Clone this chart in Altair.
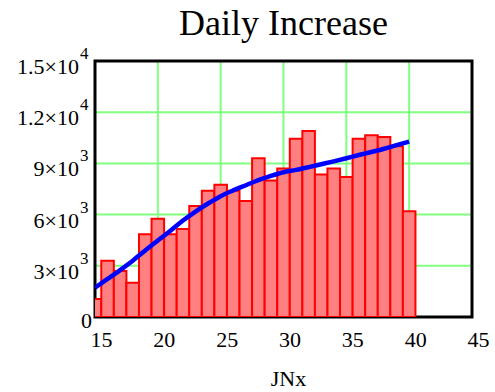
import altair as alt
import pandas as pd

# Daily increase per day number (JNx) and the smoothed trend
days = list(range(15, 41))
daily_increase = [1050, 3300, 2700, 2000, 4850, 5750, 4850, 5150, 6500, 7400,
                  7750, 7400, 6800, 9300, 8000, 8700, 10450, 10900, 8350, 8700,
                  8200, 10450, 10650, 10550, 10000, 6200]
trend_days = list(range(15, 41))
trend_values = [1720, 2230, 2750, 3300, 3900, 4480, 5050, 5650, 6180, 6650,
                7080, 7420, 7720, 8020, 8270, 8480, 8620, 8780, 8950, 9120,
                9300, 9490, 9670, 9860, 10070, 10280]

# Axis ticks; y labels are written in mantissa x 10^exponent form
x_ticks = [15, 20, 25, 30, 35, 40, 45]
y_ticks = [0, 3000, 6000, 9000, 12000, 15000]
y_mantissa = ["0", "3", "6", "9", "1.2", "1.5"]
y_exponent = ["", "3", "3", "3", "4", "4"]

FONT = "Liberation Serif"
GRID = "#80ff80"
W, H = 377, 256

bars_df = pd.DataFrame({"day": days, "value": daily_increase})
trend_df = pd.DataFrame({"day": trend_days, "value": trend_values})
ticks_df = pd.DataFrame({
    "value": y_ticks,
    "main": [m + "\u00d710" if e else m for m, e in zip(y_mantissa, y_exponent)],
    "sup": y_exponent,
})

x_scale = alt.Scale(domain=[15, 45], nice=False, zero=False)
y_scale = alt.Scale(domain=[0, 15000], nice=False)

x_axis = alt.Axis(
    values=x_ticks, grid=False,
    domain=False, ticks=False, tickSize=0,
    labelFont=FONT, labelFontSize=22, labelColor="black",
    labelPadding=12, labelOffset=6, labelFlush=False, labelOverlap=False,
    title="JNx", titleFont=FONT, titleFontSize=22, titleFontWeight="normal",
    titleColor="black", titleX=193, titleY=68, titleBaseline="alphabetic",
    titleAlign="center",
)
y_axis = alt.Axis(
    values=y_ticks, grid=False,
    domain=False, ticks=False, tickSize=0, labels=False, title=None,
)

x_enc = alt.X("day:Q", scale=x_scale, axis=x_axis)
y_enc = alt.Y("value:Q", scale=y_scale, axis=y_axis)

# interior grid lines (the frame covers the outer ones)
grid_x = alt.Chart(pd.DataFrame({"day": x_ticks})).transform_filter(
    "datum.day > 15 && datum.day < 45"
).mark_rule(color=GRID, strokeWidth=2).encode(x=x_enc)

grid_y = alt.Chart(pd.DataFrame({"value": y_ticks})).transform_filter(
    "datum.value > 0 && datum.value < 15000"
).mark_rule(color=GRID, strokeWidth=2).encode(y=y_enc)

# black frame around the plot area
frame = alt.Chart(pd.DataFrame({"f": [0]})).mark_rect(
    fillOpacity=0, stroke="black", strokeWidth=3
).encode(x=alt.value(0), x2=alt.value(W), y=alt.value(0), y2=alt.value(H))

# one bar per day, spanning day - 0.5 .. day + 0.5, rising from zero
bars = alt.Chart(bars_df).transform_calculate(
    left="datum.day - 0.5", right="datum.day + 0.5"
).mark_bar(
    color="#ff8080", stroke="#ff0000", strokeWidth=2, clip=True
).encode(
    x=alt.X("left:Q", scale=x_scale, axis=x_axis),
    x2="right:Q",
    y=y_enc,
    y2=alt.datum(0),
)

trend = alt.Chart(trend_df).mark_line(
    color="#0000ff", strokeWidth=4.5, interpolate="monotone", clip=True
).encode(x=x_enc, y=y_enc)

labels_main = alt.Chart(ticks_df).transform_filter("datum.sup != ''").mark_text(
    font=FONT, fontSize=22, align="right", baseline="alphabetic", dy=13, color="black"
).encode(x=alt.value(-16), y=y_enc, text="main:N")

labels_sup = alt.Chart(ticks_df).transform_filter("datum.sup != ''").mark_text(
    font=FONT, fontSize=17, align="left", baseline="alphabetic", dy=-2, color="black"
).encode(x=alt.value(-15), y=y_enc, text="sup:N")

labels_zero = alt.Chart(ticks_df).transform_filter("datum.sup == ''").mark_text(
    font=FONT, fontSize=22, align="right", baseline="alphabetic", dy=11, color="black"
).encode(x=alt.value(-3), y=y_enc, text="main:N")

title = alt.Chart(pd.DataFrame({"t": ["Daily Increase"]})).mark_text(
    font=FONT, fontSize=36, align="center", baseline="alphabetic", color="black"
).encode(x=alt.value(W / 2), y=alt.value(-26), text="t:N")

chart = alt.layer(
    grid_x, grid_y, frame, bars, trend, labels_main, labels_sup, labels_zero, title
).properties(
    width=W,
    height=H,
    padding={"left": 95, "top": 61, "right": 23, "bottom": 75},
    autosize=alt.AutoSizeParams(type="none"),
).configure_view(
    strokeWidth=0
).configure(background="white")

chart.save("out.html", embed_options={"renderer": "svg", "actions": False})
